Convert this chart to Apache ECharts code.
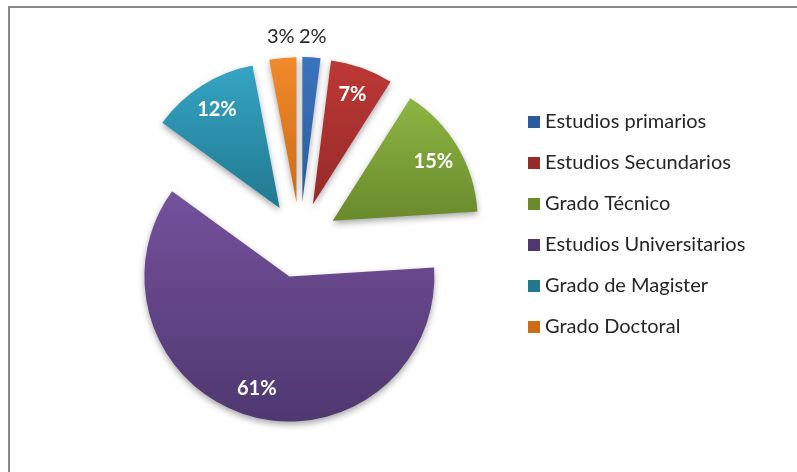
<!DOCTYPE html>
<html>
<head>
<meta charset="utf-8">
<title>Nivel de estudios</title>
<script src="https://cdn.jsdelivr.net/npm/echarts@6/dist/echarts.min.js"></script>
<style>
  html, body { margin: 0; padding: 0; background: #fff; }
  #chart { width: 797px; height: 472px; }
</style>
</head>
<body>
<div id="chart"></div>
<script>
const categories = ['Estudios primarios', 'Estudios Secundarios', 'Grado Técnico', 'Estudios Universitarios', 'Grado de Magister', 'Grado Doctoral']
const values = [2, 7, 15, 61, 12, 3]

// top / bottom gradient colours, one pair per slice
const colors = [
  ['#3a74bd', '#2a5b9c'],
  ['#bd3836', '#962a29'],
  ['#8db543', '#6a8a2c'],
  ['#74519c', '#4f3870'],
  ['#35a5c4', '#21788f'],
  ['#f18a2a', '#cc6c17']
]

const CX = 300
const CY = 240
const R = 145
const OFFSET = 38

const font = 'Lato, "Open Sans", sans-serif'

function grad(pair) {
  return new echarts.graphic.LinearGradient(0, 0, 0, 1, [
    { offset: 0, color: pair[0] },
    { offset: 1, color: pair[1] }
  ])
}

const mainData = categories.map((name, i) => ({
  name,
  value: values[i],
  selected: true,
  itemStyle: { color: grad(colors[i]) }
}))

const ghostData = categories.map((name, i) => ({
  name,
  value: values[i],
  selected: true
}))

const chart = echarts.init(document.getElementById('chart'))

const ghost = {
  type: 'pie',
  center: [CX, CY],
  startAngle: 90,
  selectedMode: 'multiple',
  selectedOffset: OFFSET,
  silent: true,
  animation: false,
  avoidLabelOverlap: false,
  labelLayout: { hideOverlap: false },
  itemStyle: { color: 'transparent', borderWidth: 0 },
  select: { itemStyle: { color: 'transparent', borderWidth: 0 } },
  labelLine: { show: false },
  data: ghostData
}

chart.setOption({
  animation: false,
  legend: {
    orient: 'vertical',
    left: 528,
    top: 112,
    padding: 0,
    itemWidth: 12,
    itemHeight: 12,
    itemGap: 21,
    icon: 'rect',
    textStyle: { fontFamily: font, fontSize: 20, color: '#262626' },
    data: categories.map((name, i) => ({ name, itemStyle: { color: colors[i][1] } }))
  },
  graphic: [
    {
      type: 'polyline',
      shape: { points: [[9, 472], [9, 7], [797, 7]] },
      style: { stroke: '#878787', lineWidth: 2, fill: null },
      silent: true
    }
  ],
  series: [
    {
      type: 'pie',
      center: [CX, CY],
      radius: R,
      startAngle: 90,
      selectedMode: 'multiple',
      selectedOffset: OFFSET,
      itemStyle: {
        borderWidth: 0,
        shadowBlur: 6,
        shadowOffsetY: 3,
        shadowColor: 'rgba(0,0,0,0.35)'
      },
      select: { itemStyle: { borderWidth: 0 } },
      label: { show: false },
      labelLine: { show: false },
      data: mainData
    },
    Object.assign({}, ghost, {
      radius: [83, R],
      label: {
        show: true,
        position: 'inside',
        fontFamily: font,
        fontSize: 20,
        fontWeight: 'bold',
        color: '#ffffff',
        formatter: p => (p.value >= 5 ? p.value + '%' : '')
      }
    }),
    Object.assign({}, ghost, {
      radius: [R + 2, R + 34],
      label: {
        show: true,
        position: 'inside',
        fontFamily: font,
        fontSize: 20,
        color: '#262626',
        formatter: p => (p.value < 5 ? p.value + '%' : '')
      }
    })
  ]
})
</script>
</body>
</html>
